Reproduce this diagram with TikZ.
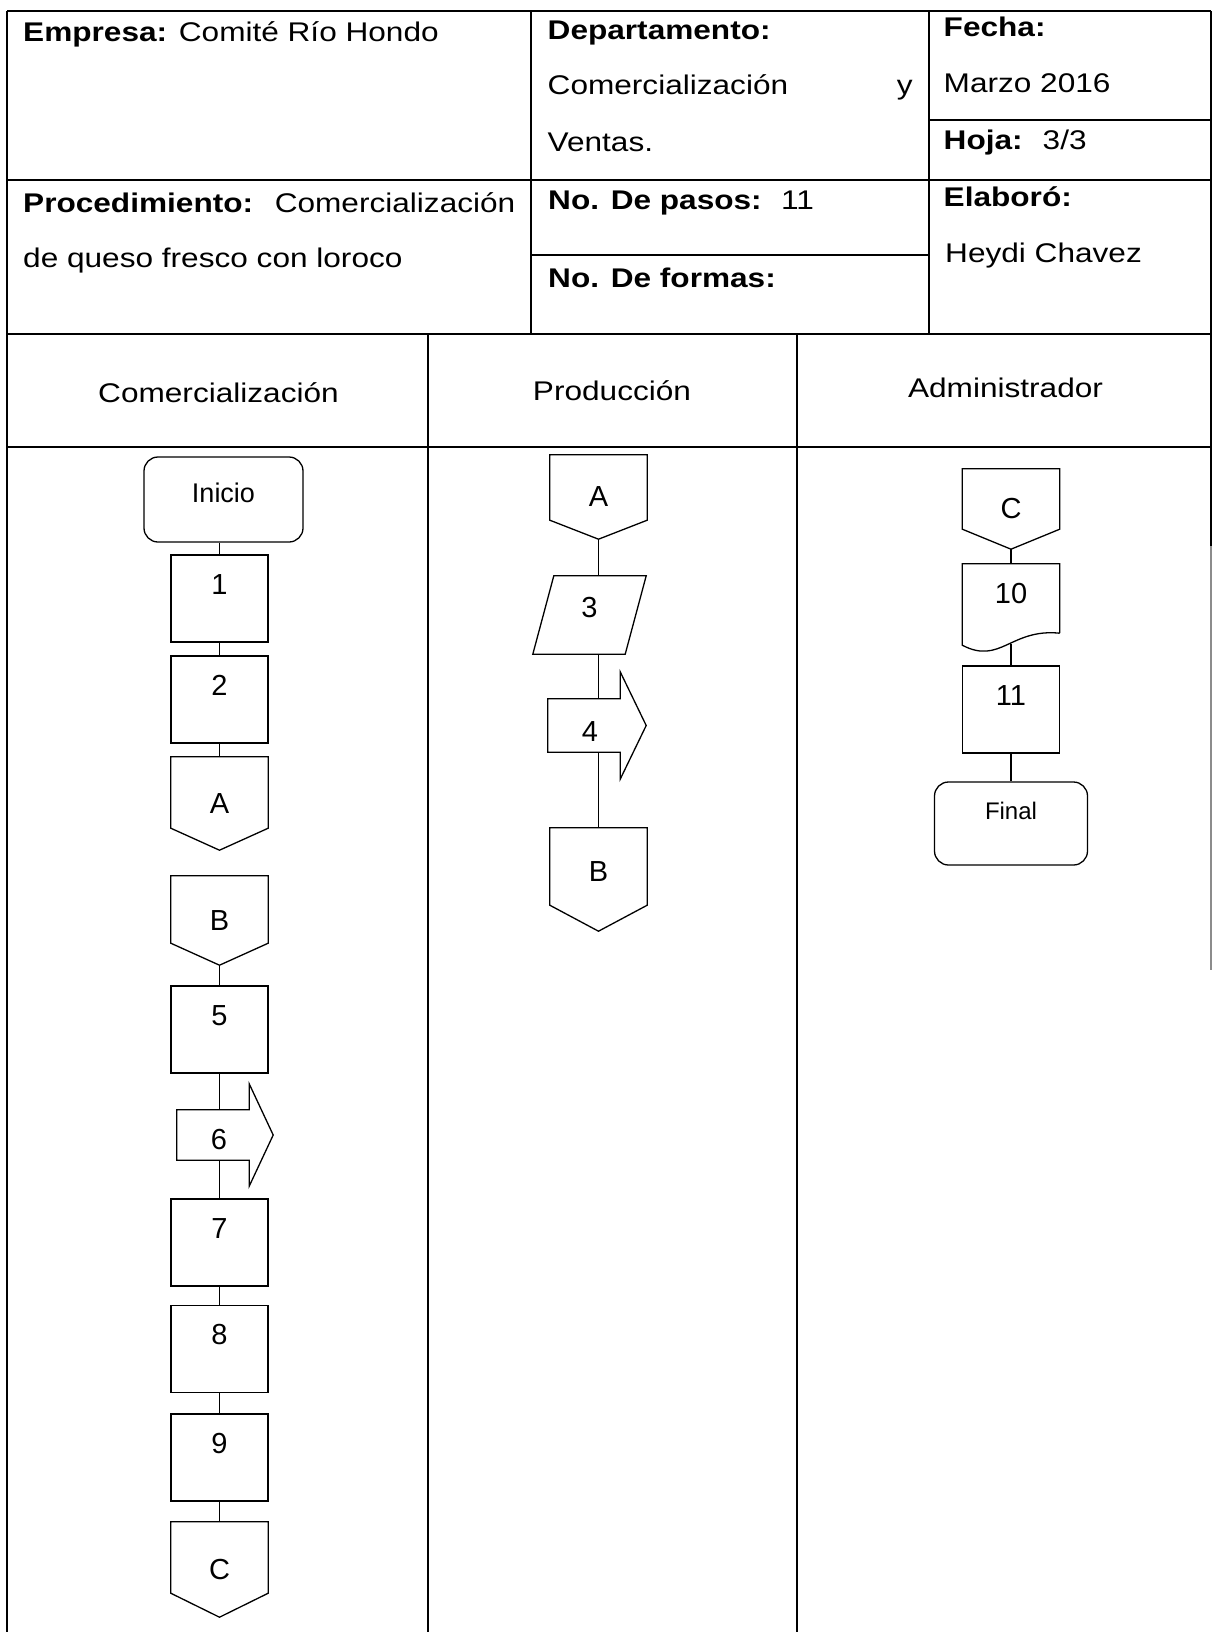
\documentclass[tikz,border=0pt]{standalone}
\usepackage{fontspec}
\setmainfont{Liberation Sans}[FakeStretch=1.17]
\newfontfamily\flowfam{Liberation Sans}
\usetikzlibrary{calc}
\newcommand\hdrfont{\fontsize{27pt}{32pt}\selectfont}
\newcommand\flowfont{\flowfam\fontsize{29pt}{34pt}\selectfont}

\begin{document}
\begin{tikzpicture}[x=1pt,y=-1pt,
    tline/.style={line width=1.6pt},
    flow/.style={line width=1.3pt},
    link/.style={line width=1.3pt},
    hdr/.style={anchor=base west,inner sep=0pt,font=\hdrfont},
    lane/.style={anchor=base,inner sep=0pt,font=\hdrfont},
    terminal/.style={draw,flow,rounded corners=14pt,inner sep=0pt,font=\flowfam\fontsize{27pt}{32pt}\selectfont},
    stepbox/.style={draw,flow,minimum width=97pt,minimum height=87pt,inner sep=0pt,
      text height=39pt,text depth=48pt,font=\flowfont},
    offpage/.style={minimum width=97pt,inner sep=0pt,font=\flowfont},
    arrowbody/.style={minimum width=72pt,inner sep=0pt,font=\flowfont},
    docshape/.style={minimum width=97pt,minimum height=69pt,inner sep=0pt,
      text height=39pt,text depth=30pt,font=\flowfont}]
  \useasboundingbox (0,0) rectangle (1213,1632);

  % encabezado
  \draw[tline] (7,11) -- (1211,11);
  \draw[tline] (7,11) -- (7,1632);
  \draw[tline] (1211,11) -- (1211,546);
  \draw[line width=1.2pt,black!45] (1211,546) -- (1211,970);
  \draw[tline] (531,11) -- (531,334);
  \draw[tline] (929,11) -- (929,334);
  \draw[tline] (929,120) -- (1211,120);
  \draw[tline] (7,180) -- (1211,180);
  \draw[tline] (531,255) -- (929,255);
  \draw[tline] (7,334) -- (1211,334);
  \draw[tline] (428,334) -- (428,1632);
  \draw[tline] (797,334) -- (797,1632);
  \draw[tline] (7,447) -- (1211,447);

  \node[hdr] (empresa) at (23,42) {\textbf{Empresa:} Comité Río Hondo};
  \node[hdr] (depto) at (547.5,40) {\textbf{Departamento:}};
  \node[hdr] (depto1) at (547.5,95) {\makebox[365pt]{Comercialización\hfill y}};
  \node[hdr] (depto2) at (547.5,152) {Ventas.};
  \node[hdr] (fecha) at (943.5,37) {\textbf{Fecha:}};
  \node[hdr] (fecha1) at (943.5,93) {Marzo 2016};
  \node[hdr] (hoja) at (943.5,150) {\makebox[99pt][l]{\textbf{Hoja:}}3/3};
  \node[hdr] (proc) at (23,212) {\makebox[251.6pt][l]{\textbf{Procedimiento:}}Comercialización};
  \node[hdr] (proc1) at (23,267) {de queso fresco con loroco};
  \node[hdr] (pasos) at (548,210) {\makebox[233pt][l]{\textbf{No. De pasos:}}11};
  \node[hdr] (formas) at (548,287) {\textbf{No. De formas:}};
  \node[hdr] (elaboro) at (943.5,207) {\textbf{Elaboró:}};
  \node[hdr] (autor) at (945,262) {Heydi Chavez};

  \node[lane] (lcom) at (218.5,402) {Comercialización};
  \node[lane] (lpro) at (612,400) {Producción};
  \node[lane] (ladm) at (1005.5,397) {Administrador};

  % Comercializacion
  \node[terminal,minimum width=159pt,minimum height=85pt,text height=45pt,text depth=40pt]
    (ini) at (223.5,499.5) {Inicio};
  \foreach \n/\y in {1/598.5,2/699.5,5/1029.5,7/1242.5,8/1349,9/1457.5}
    \node[stepbox] (p\n) at (219.5,\y) {\n};
  \node[offpage,minimum height=93pt] (cA1) at (219.5,803.5) {A};
  \node[offpage,minimum height=89pt] (cB1) at (219.5,920.5) {B};
  \node[arrowbody,minimum height=50pt,text height=39pt,text depth=11pt] (a6) at (213,1135) {\hspace*{12pt}6};
  \node[offpage,minimum height=95pt] (cC1) at (219.5,1569.5) {C};

  % Produccion
  \node[offpage,minimum height=84pt] (cA2) at (598.5,497) {A};
  \node[minimum width=92pt,minimum height=78pt,inner sep=0pt,font=\flowfont,
    text height=41pt,text depth=37pt] (d3) at (589.5,615) {3};
  \node[arrowbody,minimum height=53pt,text height=42pt,text depth=11pt] (a4) at (584,725.5) {\hspace*{12pt}4};
  \node[offpage,minimum height=103pt,text height=53pt,text depth=50pt] (cB2) at (598.5,879.5) {B};

  % Administrador
  \node[offpage,minimum height=80pt] (cC3) at (1011,509) {C};
  \node[docshape] (doc10) at (1011,598.5) {10};
  \node[stepbox] (p11) at (1011,709.5) {11};
  \node[terminal,minimum width=153pt,minimum height=83pt,text height=37pt,text depth=46pt,
    font=\flowfam\fontsize{24pt}{28pt}\selectfont] (fin) at (1011,823.5) {Final};

  % contornos
  \foreach \n/\d in {cA1/22,cB1/22,cC1/24,cA2/19,cB2/26,cC3/20}
    \draw[flow] (\n.north west) -- (\n.north east) -- ($(\n.south east)+(0,-\d)$)
      -- (\n.south) -- ($(\n.south west)+(0,-\d)$) -- cycle;
  \foreach \n/\e/\t in {a6/26/24,a4/27/26}
    \draw[flow] (\n.south west) -- (\n.north west) -- (\n.north east) -- ($(\n.north east)+(0,-\e)$)
      -- ($(\n.east)+(\t,0)$) -- ($(\n.south east)+(0,\e)$) -- (\n.south east) -- cycle;
  \draw[flow] ($(d3.north west)+(10.5,0)$) -- ($(d3.north east)+(10.5,0)$)
    -- ($(d3.south east)+(-10.5,0)$) -- ($(d3.south west)+(-10.5,0)$) -- cycle;
  \draw[flow] (doc10.south east) -- (doc10.north east) -- (doc10.north west)
    -- ($(doc10.south west)+(0,12)$)
    .. controls ($(doc10.south west)+(38,32)$) and ($(doc10.south east)+(-49,-5)$) .. (doc10.south east);

  % conectores
  \draw[link] (ini.south -| p1) -- (p1);
  \foreach \a/\b in {p1/p2,p2/cA1,cB1/p5,p7/p8,p8/p9,p9/cC1}
    \draw[link] (\a) -- (\b);
  \draw[link] (p5) -- (p5 |- a6.north);
  \draw[link] (p5 |- a6.south) -- (p7);

  \draw[link] (cA2) -- (cA2 |- d3.north);
  \draw[link] (cA2 |- d3.south) -- (cA2 |- a4.north);
  \draw[link] (cA2 |- a4.south) -- (cB2);

  \draw[link] (cC3) -- (doc10);
  \draw[link] ($(doc10.south)+(0,11)$) -- (p11);
  \draw[link] (p11) -- (fin);
\end{tikzpicture}
\end{document}
